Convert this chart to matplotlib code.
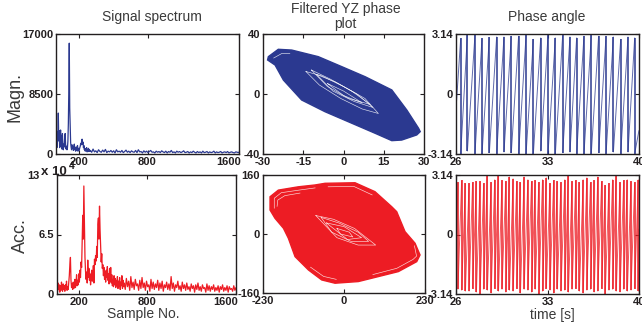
import numpy as np
import matplotlib
matplotlib.use("Agg")
import matplotlib.pyplot as plt
from matplotlib.collections import LineCollection
from matplotlib.transforms import ScaledTranslation

plt.rcParams['font.family'] = ['Liberation Sans', 'DejaVu Sans']

BLUE = '#2B3990'
RED = '#ED1C24'
INK = '#231F20'
GREY = '#3A3A3A'

# ---- signal spectrum (Magn.), first 300 samples every 4, then every 12 ----
magn_head = [7600, 2500, 900, 3200, 1800, 5800, 2000, 3300, 900, 1500,
             3400, 1100, 2600, 700, 2900, 1200, 600, 1400, 1000, 2400,
             2900, 1300, 700, 1100, 600, 900, 1800, 4300, 9000, 15700,
             6500, 4000, 1600, 1000, 600, 1300, 800, 1100, 500, 900,
             1400, 600, 800, 400, 1000, 500, 700, 1200, 400, 800,
             500, 600, 900, 1100, 1500, 1300, 1800, 2100, 1400, 1700,
             900, 1200, 600, 800, 400, 700, 500, 900, 300, 600,
             450, 800, 350, 600, 400]
magn_tail = [500, 250, 700, 300, 450, 200, 600, 350, 250, 550, 300, 650, 200, 400,
             300, 500, 250, 450, 150, 600, 300, 400, 250, 500, 200, 350, 550, 250,
             400, 200, 450, 300, 250, 500, 200, 600, 300, 350, 150, 450, 250, 400,
             200, 350, 500, 250, 300, 150, 400, 250, 350, 200, 450, 300, 200, 400,
             150, 350, 250, 500, 200, 300, 150, 400, 250, 350, 200, 300, 450, 200,
             250, 350, 150, 300, 200, 400, 250, 150, 350, 200, 300, 150, 400, 200,
             250, 350, 150, 300, 200, 250, 400, 150, 300, 200, 250, 350, 150, 250,
             300, 200, 350, 150, 250, 300, 200, 150, 300, 250, 200, 350]

# ---- acceleration spectrum (x 10^4), first 600 samples every 5, then every 10 ----
acc_head = [0.8, 0.3, 1.2, 0.5, 1.0, 0.2, 0.9, 0.4, 1.3, 0.6, 0.3, 1.1, 0.5, 0.9, 0.3,
            1.0, 0.6, 1.4, 0.4, 0.8, 0.5, 1.2, 2.0, 3.2, 4.0, 1.5, 0.7, 1.1, 0.5, 1.3,
            0.6, 1.0, 1.6, 0.7, 1.2, 2.1, 0.9, 1.5, 1.0, 2.2, 1.3, 2.6, 1.8, 3.5, 2.9,
            5.5, 8.6, 6.0, 11.8, 7.5, 4.0, 2.5, 1.6, 2.4, 1.2, 3.7, 1.8, 2.8, 1.5, 2.2,
            1.0, 1.9, 2.6, 1.4, 2.0, 3.1, 1.2, 3.8, 3.2, 4.2, 3.6, 5.2, 4.0, 7.6, 8.3,
            6.0, 9.6, 7.0, 5.2, 3.5, 4.4, 2.8, 3.2, 2.0, 2.9, 1.6, 2.4, 1.3, 2.6, 1.8,
            3.0, 1.5, 2.2, 1.1, 2.8, 1.4, 2.9, 1.2, 2.1, 0.9, 1.6, 0.8, 2.0, 1.0, 1.7,
            0.7, 1.5, 0.9, 1.9, 0.6, 1.4, 0.8, 1.8, 0.5, 1.3, 0.9, 2.0, 0.6, 1.5, 0.8]
acc_tail = [1.2, 0.5, 1.7, 0.8, 1.4, 0.4, 1.9, 0.7, 1.3, 0.5, 1.6, 0.9, 1.1, 0.4, 1.5,
            0.6, 1.8, 0.7, 1.2, 0.4, 1.4, 0.8, 1.0, 0.3, 1.6, 0.6, 1.3, 0.5, 1.1, 0.7,
            1.5, 0.4, 1.2, 0.6, 1.4, 0.3, 1.0, 0.7, 1.3, 0.5,
            1.1, 0.4, 1.9, 0.6, 1.2, 0.3, 1.0, 0.7, 1.4, 0.5, 0.9, 0.3, 1.3, 0.6, 1.0,
            0.4, 1.2, 0.5, 0.8, 0.3, 1.1, 0.6, 0.9, 0.2, 1.0, 0.5, 1.2, 0.4, 0.8, 0.3,
            1.0, 0.6, 0.7, 0.2, 1.1, 0.4, 0.9, 0.3, 0.8, 0.5, 1.0, 0.3, 0.7, 0.4, 0.9,
            0.2, 0.8, 0.5, 1.0, 0.3, 0.7, 0.4, 0.9, 0.2, 0.8, 0.5, 0.6, 0.3, 0.9, 0.4,
            0.7, 0.2, 0.6]

# ---- filtered YZ phase plots: outer outline and a few inner gaps ----
yz_top_x = [-28.0, -24.3, -19.3, -9.4, -0.6, 8.1, 18.0, 23.6, 28.0, 28.6, 27.3,
            21.7, 18.0, 11.8, 3.1, -6.9, -15.6, -22.4, -25.5, -28.3]
yz_top_y = [24.9, 29.8, 29.3, 24.9, 18.2, 11.5, 2.7, -10.7, -22.9, -25.1, -27.3,
            -30.7, -31.1, -26.2, -19.5, -11.8, -4.0, 9.3, 19.3, 22.7]
yz_top_gaps = [
    ([-14, -8, 0, 8, 13, 7, -1, -9, -14], [15, 12, 5, -3, -13, -10, -3, 6, 15]),
    ([-10, -3, 5, 11, 4, -4, -10], [13, 8, 0, -9, -5, 2, 13]),
    ([-12, -5, 3, 10, 2, -6, -12], [16, 10, 2, -7, -3, 5, 16]),
    ([-6, 0, 7, 0, -6], [7, 2, -6, -1, 7]),
    ([-26, -23, -20], [24, 27, 27]),
]

yz_bot_x = [-53.9, 31.3, 88, 135.5, 149.7, 173.3, 201.7, 215.9, 206.5, 154.3, 78.7,
            40.7, -25.5, -63.3, -101, -139, -158, -172, -196, -210, -210, -186.5,
            -129.7, -82]
yz_bot_y = [137.5, 139, 114.8, 74, 60.5, 6.4, -25, -56.8, -75, -102, -120, -129,
            -133.5, -124.6, -97.5, -61.4, -11.5, 15.6, 42.6, 65, 101, 119, 128, 133]
yz_bot_gaps = [
    ([-80, -30, 30, 90, 40, -20, -80], [50, 40, 15, -30, -30, -10, 50]),
    ([-65, -15, 40, 70, 20, -35, -65], [45, 30, 5, -20, -20, 5, 45]),
    ([-50, 0, 50, 10, -50], [30, 20, -10, -15, 30]),
    ([-20, 15, 25, -10, -20], [15, 5, -8, 0, 15]),
    ([-198, -198, -178, -128, -82], [70, 97, 112, 119, 125]),
    ([-190, -188, -168, -125], [75, 92, 104, 111]),
    ([-45, 28, 80], [128, 129, 106]),
    ([200, 206, 196, 150, 82], [-32, -60, -69, -93, -110]),
    ([-22, -58, -95], [-123, -115, -90]),
]

# ---- phase angle: wrap times, peak and trough values ----
ph_top_wrap = [26.36, 26.87, 27.45, 27.99, 28.55, 29.11, 29.67, 30.23, 30.79, 31.36,
               31.92, 32.48, 33.04, 33.60, 34.16, 34.72, 35.23, 35.79, 36.35, 36.91,
               37.48, 38.04, 38.60, 39.16, 39.67]
ph_top_peak = [2.91, 3.09, 3.09, 2.91, 2.97, 3.0, 3.0, 3.04, 3.04, 3.07, 2.88, 2.95,
               3.07, 2.95, 3.07, 3.0, 2.95, 3.04, 3.07, 3.04, 3.04, 3.0, 2.88, 3.0, 2.95]
ph_top_low = [-3.14, -3.0, -3.12, -3.14, -3.09, -3.12, -3.05, -3.09, -3.12, -3.14,
              -3.12, -3.0, -3.12, -3.14, -3.09, -3.05, -3.12, -3.14, -3.12, -3.09,
              -3.12, -3.05, -3.12, -3.05, -3.12]
ph_top_ends = (-0.8, -1.9)

ph_bot_wrap = [26.15, 26.43, 26.72, 27.00, 27.27, 27.56, 27.84, 28.12, 28.40, 28.69,
               28.96, 29.25, 29.52, 29.81, 30.09, 30.37, 30.65, 30.93, 31.21, 31.50,
               31.78, 32.06, 32.34, 32.62, 32.91, 33.19, 33.47, 33.75, 34.03, 34.32,
               34.60, 34.88, 35.16, 35.44, 35.73, 36.01, 36.29, 36.57, 36.85, 37.14,
               37.42, 37.70, 37.98, 38.26, 38.55, 38.83, 39.11, 39.39, 39.67, 39.95]
ph_bot_peak = [2.75, 2.85, 2.7, 2.7, 2.75, 2.8, 2.8, 2.7, 3.14, 2.75, 2.9, 3.1, 2.85,
               2.8, 3.05, 2.95, 2.8, 2.75, 3.05, 2.9, 2.8, 2.85, 2.75, 2.9, 3.0, 2.7,
               2.85, 2.8, 2.75, 2.9, 3.1, 2.8, 2.85, 2.75, 2.9, 3.0, 2.75, 2.85, 3.05,
               2.8, 2.6, 2.7, 2.9, 3.1, 2.75, 2.85, 2.9, 2.8, 2.75, 2.9]
ph_bot_low = [-2.9, -2.95, -3.0, -3.0, -2.85, -3.05, -3.14, -2.9, -2.95, -3.1, -2.85,
              -3.0, -2.9, -3.05, -2.95, -3.0, -2.85, -3.1, -2.9, -2.95, -3.05, -2.9,
              -3.14, -3.0, -2.85, -2.95, -3.1, -2.9, -3.0, -2.95, -3.05, -2.9, -2.85,
              -3.0, -3.1, -2.95, -2.9, -3.05, -3.0, -2.85, -3.14, -2.95, -2.9, -3.0,
              -3.05, -2.9, -3.0, -2.95, -2.85, -3.0]
ph_bot_ends = (-1.5, 0.3)


def sawtooth(ax, wrap, peak, low, ends, color, t0=26.0, t1=40.0):
    # slow ramps drawn thin, wrap-around drops drawn heavier
    starts = [(t0, ends[0])] + [(t, l) for t, l in zip(wrap, low)]
    stops = [(t, p) for t, p in zip(wrap, peak)] + [(t1, ends[1])]
    ramps = [[a, b] for a, b in zip(starts, stops)]
    drops = [[(t, p), (t, l)] for t, p, l in zip(wrap, peak, low)]
    ax.add_collection(LineCollection(ramps, colors=color, linewidths=0.7, alpha=0.75))
    ax.add_collection(LineCollection(drops, colors=color, linewidths=1.1))


W, H = 642, 324
fig = plt.figure(figsize=(W / 100, H / 100), dpi=100)


def rect(l, t, r, b):
    return [l / W, 1 - b / H, (r - l) / W, (b - t) / H]


def shift(lab, dx, dy=0):
    lab.set_transform(lab.get_transform() + ScaledTranslation(dx / 100, dy / 100, fig.dpi_scale_trans))


def style(ax, xt, xl, yt, yl):
    ax.set_xticks(xt)
    ax.set_xticklabels(xl)
    ax.set_yticks(yt)
    ax.set_yticklabels(yl)
    ax.tick_params(direction='in', length=3, width=0.8, top=True, right=True,
                   labelsize=8, pad=2, colors=INK)
    for lab in ax.get_xticklabels() + ax.get_yticklabels():
        lab.set_fontweight('bold')
    for s in ax.spines.values():
        s.set_linewidth(1.0)
        s.set_color(INK)


ax1 = fig.add_axes(rect(56, 34, 239, 154))
ax2 = fig.add_axes(rect(263, 34, 424, 154))
ax3 = fig.add_axes(rect(456, 34, 639, 154))
ax4 = fig.add_axes(rect(57, 175, 236, 294))
ax5 = fig.add_axes(rect(263, 175, 425, 293))
ax6 = fig.add_axes(rect(456, 175, 639, 294))

# spectrum
mx = list(np.arange(len(magn_head)) * 4) + list(300 + np.arange(len(magn_tail)) * 12)
ax1.plot(mx, magn_head + magn_tail, color=BLUE, lw=0.9)
ax1.set_xlim(0, 1600)
ax1.set_ylim(0, 17000)
style(ax1, [200, 800, 1600], ['200', '800', '1600'], [0, 8500, 17000], ['0', '8500', '17000'])

ax_x = list(np.arange(len(acc_head)) * 5) + list(600 + np.arange(len(acc_tail)) * 10)
ax4.plot(ax_x, acc_head + acc_tail, color=RED, lw=0.9)
ax4.set_xlim(0, 1600)
ax4.set_ylim(0, 13)
style(ax4, [200, 800, 1600], ['200', '800', '1600'], [0, 6.5, 13], ['0', '6.5', '13'])

for ax in (ax1, ax4):
    shift(ax.get_xticklabels()[-1], -10)
shift(ax4.get_yticklabels()[-1], -15)

# phase plots
ax2.fill(yz_top_x, yz_top_y, color=BLUE, lw=1.0)
for gx, gy in yz_top_gaps:
    ax2.plot(gx, gy, color='white', lw=0.45, alpha=0.85)
ax2.set_xlim(-30, 30)
ax2.set_ylim(-40, 40)
style(ax2, [-30, -15, 0, 15, 30], ['-30', '-15', '0', '15', '30'], [-40, 0, 40], ['-40', '0', '40'])

ax5.fill(yz_bot_x, yz_bot_y, color=RED, lw=1.0)
for gx, gy in yz_bot_gaps:
    ax5.plot(gx, gy, color='white', lw=0.45, alpha=0.85)
ax5.set_xlim(-230, 230)
ax5.set_ylim(-160, 160)
style(ax5, [-230, 0, 230], ['-230', '0', '230'], [-160, 0, 160], ['-160', '0', '160'])

# phase angle
sawtooth(ax3, ph_top_wrap, ph_top_peak, ph_top_low, ph_top_ends, BLUE)
sawtooth(ax6, ph_bot_wrap, ph_bot_peak, ph_bot_low, ph_bot_ends, RED)
for ax in (ax3, ax6):
    ax.set_xlim(26, 40)
    ax.set_ylim(-3.14, 3.14)
    style(ax, [26, 33, 40], ['26', '33', '40'], [-3.14, 0, 3.14], ['-3.14', '0', '3.14'])


# texts
def ftext(x, y, s, ha='center', **kw):
    fig.text(x / W, 1 - y / H, s, ha=ha, va='center', **kw)


ftext(152, 17, 'Signal spectrum', fontsize=10, color=GREY)
ftext(346, 9, 'Filtered YZ phase', fontsize=10, color=GREY)
ftext(345, 24, 'plot', fontsize=10, color=GREY)
ftext(547, 17, 'Phase angle', fontsize=10, color=GREY)
ftext(15, 97, 'Magn.', fontsize=13, rotation=90, color=GREY)
ftext(20, 236, 'Acc.', fontsize=13, rotation=90, color=GREY)
ftext(143, 314, 'Sample No.', fontsize=10, color=GREY)
ftext(552, 315, 'time [s]', fontsize=10, color=GREY)
ftext(41, 172, 'x 10', ha='left', fontsize=9.5, fontweight='bold', color=INK)
ftext(69, 166, '4', ha='left', fontsize=7.5, fontweight='bold', color=INK)

fig.savefig('out.png', dpi=100)
